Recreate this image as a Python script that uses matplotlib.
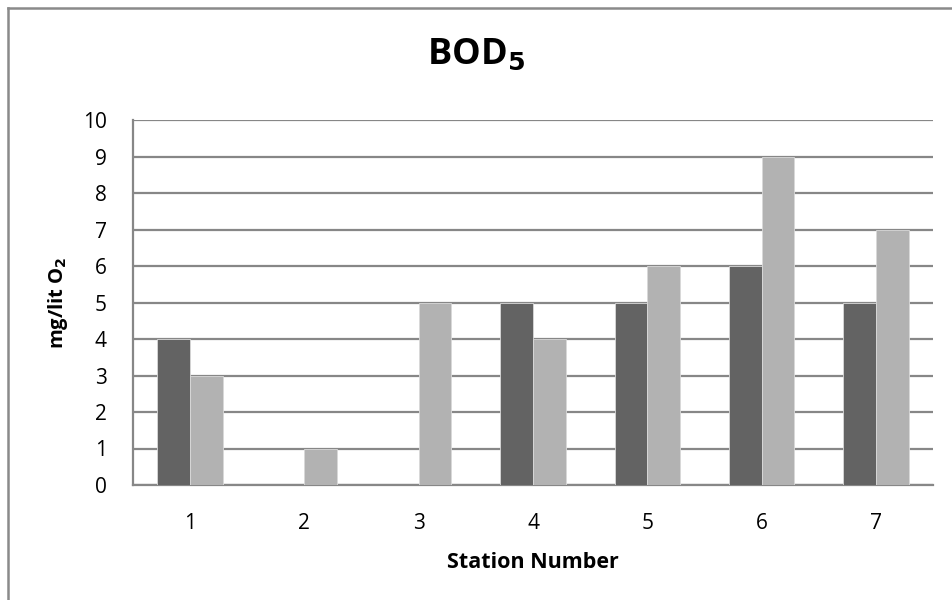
import matplotlib
matplotlib.use('Agg')
import matplotlib.pyplot as plt
import numpy as np
from matplotlib.lines import Line2D

plt.rcParams['font.family'] = ['Open Sans', 'DejaVu Sans']

stations = ['1', '2', '3', '4', '5', '6', '7']
series_a = [4, 0, 0, 5, 5, 6, 5]
series_b = [3, 1, 5, 4, 6, 9, 7]

DARK = '#636363'
LIGHT = '#b2b2b2'
GRID = '#878787'

fig = plt.figure(figsize=(9.52, 6.0), dpi=100)
ax = fig.add_axes([133 / 952, 1 - 485 / 600, (933 - 133) / 952, (485 - 120) / 600])

x = np.arange(len(stations))
w = 1 / 3.5
ax.bar(x - w / 2, series_a, width=w, color=DARK, edgecolor='#d9d9d9',
       linewidth=0.6, zorder=3)
ax.bar(x + w / 2, series_b, width=w, color=LIGHT, edgecolor='#d9d9d9',
       linewidth=0.6, zorder=3)

ax.set_xlim(-0.5, len(stations) - 0.5)
ax.set_ylim(0, 10)
ax.set_yticks(range(0, 11))
ax.set_xticks(x)
ax.set_xticklabels(stations)
ax.yaxis.grid(True, color=GRID, lw=1.6, zorder=0)
ax.set_axisbelow(True)
for s in ('top', 'right'):
    ax.spines[s].set_visible(False)
for s in ('left', 'bottom'):
    ax.spines[s].set_color(GRID)
    ax.spines[s].set_linewidth(1.6)
ax.tick_params(axis='both', length=0, labelsize=15, colors='black')
ax.tick_params(axis='x', pad=20)
ax.tick_params(axis='y', pad=19)

ax.set_xlabel('Station Number', fontsize=15.5, fontweight='bold', labelpad=13)
ax.set_ylabel(r'mg/lit O$_\mathbf{2}$', fontsize=14.5, fontweight='bold', labelpad=9)

fig.text(0.5, 1 - 55 / 600, r'BOD$_\mathbf{5}$', fontsize=26, fontweight='bold',
         ha='center', va='center')

# chart frame (top and left edges visible)
fx, fy = 7.5 / 952, 1 - 7.5 / 600
fig.lines.append(Line2D([fx, 1], [fy, fy], transform=fig.transFigure,
                        color='#8a8a8a', lw=1.8))
fig.lines.append(Line2D([fx, fx], [0, fy], transform=fig.transFigure,
                        color='#8a8a8a', lw=1.8))

fig.savefig('out.png', dpi=100)
